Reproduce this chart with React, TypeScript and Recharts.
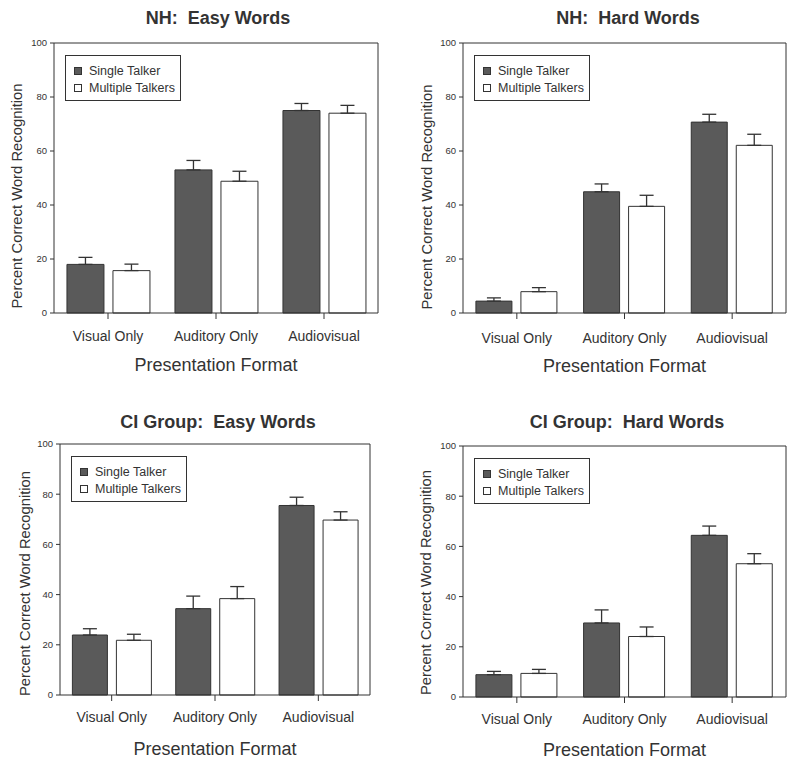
import React from 'react';
import { BarChart, Bar, XAxis, YAxis, ErrorBar, Legend } from 'recharts';

const categories = ['Visual Only', 'Auditory Only', 'Audiovisual'];
const seriesNames = ['Single Talker', 'Multiple Talkers'];
const yTicks = [0, 20, 40, 60, 80, 100];

const nhEasySingle = [18, 53, 75];
const nhEasySingleErr = [2.6, 3.5, 2.6];
const nhEasyMulti = [15.7, 48.8, 74];
const nhEasyMultiErr = [2.4, 3.7, 2.9];

const nhHardSingle = [4.4, 44.9, 70.7];
const nhHardSingleErr = [1.2, 2.9, 2.9];
const nhHardMulti = [7.9, 39.5, 62.1];
const nhHardMultiErr = [1.5, 4.1, 4.1];

const ciEasySingle = [23.9, 34.4, 75.5];
const ciEasySingleErr = [2.5, 5.0, 3.3];
const ciEasyMulti = [21.8, 38.4, 69.7];
const ciEasyMultiErr = [2.4, 4.8, 3.3];

const ciHardSingle = [8.9, 29.5, 64.4];
const ciHardSingleErr = [1.3, 5.2, 3.7];
const ciHardMulti = [9.4, 24.1, 53.1];
const ciHardMultiErr = [1.6, 3.8, 4.0];

const FONT = '"Liberation Sans", Arial, sans-serif';
const INK = '#333';

function buildRows(single: number[], singleErr: number[], multi: number[], multiErr: number[]) {
  return categories.map((c, i) => ({
    cat: c,
    single: single[i],
    singleErr: [0, singleErr[i]],
    multi: multi[i],
    multiErr: [0, multiErr[i]],
  }));
}

function LegendBox({ payload }: any) {
  const items = [...(payload || [])].sort((a: any, b: any) => seriesNames.indexOf(a.value) - seriesNames.indexOf(b.value));
  return (
    <div style={{ border: `1px solid ${INK}`, width: 116, height: 46, padding: '6px 0 0 8px', boxSizing: 'border-box', fontFamily: FONT, fontSize: 12.5, color: INK, background: '#fff' }}>
      {items.map((p: any) => (
        <div key={p.value} style={{ display: 'flex', alignItems: 'center', height: 17 }}>
          <span style={{ display: 'inline-block', width: 6, height: 6, background: p.color, border: `1px solid ${INK}`, marginRight: 7 }} />
          <span>{p.value}</span>
        </div>
      ))}
    </div>
  );
}

function yLabel(xOff: number, dy: number) {
  return (props: any) => {
    const vb = props.viewBox || {};
    const x = vb.x + xOff;
    const y = vb.y + vb.height / 2 + dy;
    return (
      <text x={x} y={y} transform={`rotate(-90 ${x} ${y})`} textAnchor="middle" dominantBaseline="central"
        fill={INK} fontSize={14.8} fontFamily={FONT}>
        Percent Correct Word Recognition
      </text>
    );
  };
}

type PanelProps = {
  title: string;
  rows: any[];
  left: number; top: number; w: number; h: number;
  yw: number; mt: number; mr: number; xh: number;
  yLabelX: number; yLabelDy: number; tickGap: number; xLabelOff: number; titleX: number; titleY: number;
};

function Panel(p: PanelProps) {
  return (
    <div style={{ position: 'absolute', left: p.left, top: p.top, width: p.w, height: p.h }}>
      <div style={{ position: 'absolute', left: p.titleX - 150, width: 300, top: p.titleY - 11, textAlign: 'center', whiteSpace: 'pre', fontFamily: FONT, fontWeight: 'bold', fontSize: 18, color: INK, lineHeight: '22px' }}>
        {p.title}
      </div>
      <BarChart width={p.w} height={p.h} data={p.rows} margin={{ top: p.mt - 1, right: p.mr - 1, left: 0, bottom: 0 }}
        barCategoryGap="12%" barGap={9}>
        <XAxis dataKey="cat" height={p.xh} stroke={INK} tickSize={6} tickMargin={p.tickGap}
          tick={{ fill: INK, fontSize: 14, fontFamily: FONT }}
          label={{ value: 'Presentation Format', position: 'insideBottom', offset: p.xLabelOff, fill: INK, fontSize: 18, fontFamily: FONT }} />
        <XAxis xAxisId="top" dataKey="cat" orientation="top" height={1} tick={false} tickLine={false} stroke={INK} />
        <YAxis width={p.yw} domain={[0, 100]} ticks={yTicks} stroke={INK} tickSize={4} tickMargin={3}
          tick={{ fill: INK, fontSize: 9.5, fontFamily: FONT }}
          label={{ content: yLabel(p.yLabelX, p.yLabelDy) }} />
        <YAxis yAxisId="right" orientation="right" width={1} domain={[0, 100]} tick={false} tickLine={false} stroke={INK} />
        <Legend layout="vertical" align="center" verticalAlign="middle" content={<LegendBox />}
          wrapperStyle={{ left: p.yw + 11, top: p.mt + 12, width: 116, height: 46 }} />
        <Bar dataKey="single" name="Single Talker" fill="#5a5a5a" stroke={INK} strokeWidth={1} isAnimationActive={false}>
          <ErrorBar dataKey="singleErr" width={7} stroke={INK} strokeWidth={1.3} direction="y" />
        </Bar>
        <Bar dataKey="multi" name="Multiple Talkers" fill="#ffffff" stroke={INK} strokeWidth={1} isAnimationActive={false}>
          <ErrorBar dataKey="multiErr" width={7} stroke={INK} strokeWidth={1.3} direction="y" />
        </Bar>
      </BarChart>
    </div>
  );
}

export default function App() {
  return (
    <div style={{ position: 'absolute', left: 0, top: 0, width: 800, height: 766, background: '#fff' }}>
      <Panel title="NH:  Easy Words" rows={buildRows(nhEasySingle, nhEasySingleErr, nhEasyMulti, nhEasyMultiErr)}
        left={0} top={0} w={400} h={380} yw={54} mt={43} mr={22} xh={67}
        yLabelX={17} yLabelDy={18} tickGap={12} xLabelOff={9} titleX={218} titleY={18} />
      <Panel title="NH:  Hard Words" rows={buildRows(nhHardSingle, nhHardSingleErr, nhHardMulti, nhHardMultiErr)}
        left={400} top={0} w={400} h={380} yw={63} mt={43} mr={14} xh={67}
        yLabelX={27} yLabelDy={19} tickGap={14} xLabelOff={8} titleX={228} titleY={18} />
      <Panel title="CI Group:  Easy Words" rows={buildRows(ciEasySingle, ciEasySingleErr, ciEasyMulti, ciEasyMultiErr)}
        left={0} top={380} w={400} h={386} yw={60} mt={64} mr={30} xh={71}
        yLabelX={25} yLabelDy={14} tickGap={11} xLabelOff={11} titleX={218} titleY={42} />
      <Panel title="CI Group:  Hard Words" rows={buildRows(ciHardSingle, ciHardSingleErr, ciHardMulti, ciHardMultiErr)}
        left={400} top={380} w={400} h={386} yw={63} mt={66} mr={14} xh={69}
        yLabelX={26} yLabelDy={11} tickGap={11} xLabelOff={10} titleX={227} titleY={42} />
    </div>
  );
}
